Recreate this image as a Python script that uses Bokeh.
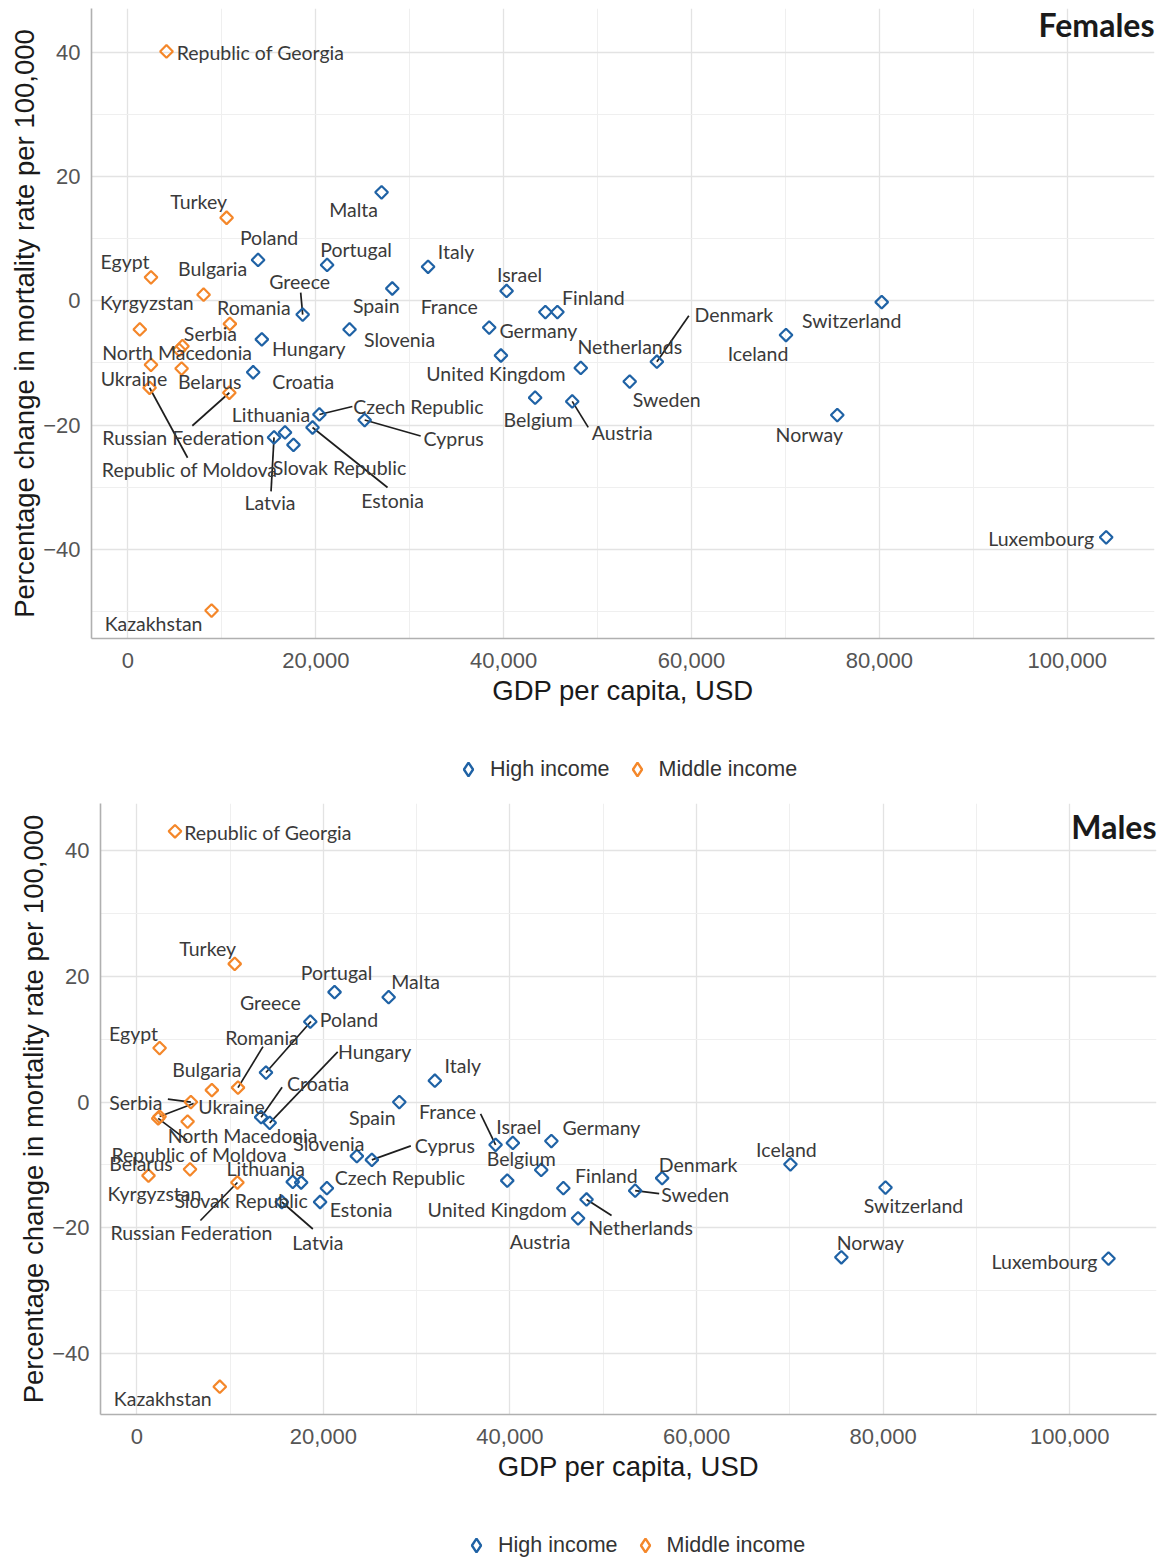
import numpy as np
from bokeh.plotting import figure
from bokeh.models import (ColumnDataSource, Range1d, NumeralTickFormatter, FixedTicker,
                          Legend, LegendItem, Label)
from bokeh.layouts import column, row
from bokeh.embed import file_html
from bokeh.resources import INLINE
from bokeh.core.properties import value

# ---------------- data ----------------
countries = [
    "Republic of Georgia", "Turkey", "Egypt", "Bulgaria", "Romania", "Kyrgyzstan",
    "Serbia", "North Macedonia", "Ukraine", "Republic of Moldova", "Belarus",
    "Russian Federation", "Kazakhstan",
    "Malta", "Poland", "Portugal", "Italy", "Spain", "Greece", "Slovenia", "Hungary",
    "Croatia", "Czech Republic", "Cyprus", "Estonia", "Lithuania", "Slovak Republic",
    "Latvia", "Israel", "France", "Germany", "Finland", "United Kingdom", "Netherlands",
    "Sweden", "Denmark", "Belgium", "Austria", "Switzerland", "Iceland", "Norway",
    "Luxembourg",
]
gdp_per_capita = [
    4100, 10500, 2450, 8050, 10850, 1260,
    5800, 5450, 2450, 2300, 5710,
    10790, 8900,
    27000, 13850, 21200, 31950, 28140, 18600, 23590, 14250,
    13330, 20380, 25200, 19650, 16720, 17620,
    15550, 40310, 38460, 44440, 45720, 39710, 48210,
    53420, 56310, 43350, 47300, 80250, 70060, 75520,
    104150,
]
female_change = [
    40.2, 13.4, 3.8, 1.0, -3.7, -4.6,
    -7.3, -7.9, -10.3, -14.0, -10.9,
    -14.8, -49.9,
    17.5, 6.6, 5.8, 5.5, 2.0, -2.2, -4.6, -6.2,
    -11.5, -18.3, -19.2, -20.4, -21.2, -23.2,
    -22.0, 1.6, -4.3, -1.8, -1.8, -8.8, -10.8,
    -13.0, -9.8, -15.6, -16.2, -0.2, -5.5, -18.4,
    -38.1,
]
male_change = [
    43.1, 22.0, 8.6, 1.9, 2.3, -11.7,
    0.0, -3.1, -2.3, -2.6, -10.7,
    -12.8, -45.3,
    16.7, 4.7, 17.5, 3.4, 0.0, 12.8, -8.6, -3.3,
    -2.4, -13.7, -9.2, -15.9, -12.7, -12.8,
    -15.9, -6.5, -6.8, -6.2, -13.7, -12.5, -15.5,
    -14.1, -12.1, -10.8, -18.5, -13.6, -9.9, -24.7,
    -24.9,
]
income_group = ["Middle income"] * 13 + ["High income"] * 29

groups = ["High income", "Middle income"]
x_major = [0, 20000, 40000, 60000, 80000, 100000]
x_minor = [10000, 30000, 50000, 70000, 90000]
y_major = [-40, -20, 0, 20, 40]
y_minor = [-50, -30, -10, 10, 30]

# ---------------- layout / style (label placement in screen pixels) ----------------
COLORS = {"High income": "#1f62a5", "Middle income": "#f4872a"}
LABEL_FONT = "Lato"
AXIS_FONT = "Liberation Sans"

FEMALE_LABELS = {
    "Republic of Georgia": (94, 1), "Turkey": (-28, -16), "Egypt": (-26, -16),
    "Bulgaria": (9, -26), "Romania": (24, -16), "Kyrgyzstan": (7, -27),
    "Serbia": (28, -13), "North Macedonia": (-2, 3), "Ukraine": (-17, 14),
    "Republic of Moldova": (40, 82), "Belarus": (28, 13),
    "Russian Federation": (-46, 45), "Kazakhstan": (-58, 13),
    "Malta": (-28, 17), "Poland": (11, -22), "Portugal": (29, -15), "Italy": (28, -15),
    "Spain": (-16, 17), "Greece": (-3, -33), "Slovenia": (50, 10), "Hungary": (47, 9),
    "Croatia": (50, 9), "Czech Republic": (99, -8), "Cyprus": (89, 18),
    "Estonia": (80, 73), "Lithuania": (-14, -18), "Slovak Republic": (46, 23),
    "Latvia": (-4, 65), "Israel": (13, -16), "France": (-40, -21), "Germany": (-7, 18),
    "Finland": (36, -15), "United Kingdom": (-5, 18), "Netherlands": (49, -21),
    "Sweden": (37, 18), "Denmark": (77, -47), "Belgium": (3, 22), "Austria": (50, 31),
    "Switzerland": (-30, 18), "Iceland": (-28, 18), "Norway": (-28, 19),
    "Luxembourg": (-65, 1),
}
FEMALE_LEADERS = {
    "Greece": (-2, -22), "Denmark": (32, -46), "Austria": (16, 26),
    "Czech Republic": (33, -8), "Cyprus": (56, 16), "Russian Federation": (-37, 33),
    "Republic of Moldova": (38, 70), "Latvia": (-3, 54), "Estonia": (75, 60),
}
MALE_LABELS = {
    "Republic of Georgia": (93, 1), "Turkey": (-27, -15), "Egypt": (-26, -15),
    "Bulgaria": (-5, -21), "Romania": (24, -50), "Kyrgyzstan": (6, 18),
    "Serbia": (-55, 0), "North Macedonia": (55, 14), "Ukraine": (72, -10),
    "Republic of Moldova": (41, 36), "Belarus": (-49, -6),
    "Russian Federation": (-46, 50), "Kazakhstan": (-57, 12),
    "Malta": (27, -16), "Poland": (83, -53), "Portugal": (2, -20), "Italy": (28, -15),
    "Spain": (-27, 15), "Greece": (-40, -19), "Slovenia": (-28, -13), "Hungary": (105, -71),
    "Croatia": (57, -34), "Czech Republic": (73, -11), "Cyprus": (73, -14),
    "Estonia": (41, 8), "Lithuania": (-27, -13), "Slovak Republic": (-60, 18),
    "Latvia": (36, 41), "Israel": (6, -16), "France": (-48, -33), "Germany": (50, -14),
    "Finland": (43, -13), "United Kingdom": (-10, 29), "Netherlands": (54, 28),
    "Sweden": (60, 4), "Denmark": (36, -14), "Belgium": (-20, -11), "Austria": (-38, 23),
    "Switzerland": (28, 18), "Iceland": (-4, -15), "Norway": (29, -15),
    "Luxembourg": (-64, 3),
}
MALE_LEADERS = {
    "Poland": (45, -51), "Romania": (25, -41), "Hungary": (68, -71), "Croatia": (21, -30),
    "Serbia": (-23, -3), "Ukraine": (34, -13), "Republic of Moldova": (29, 22),
    "Russian Federation": (-37, 38), "Cyprus": (39, -14), "France": (-15, -31),
    "Latvia": (31, 27), "Netherlands": (25, 16), "Sweden": (24, 3),
}

PAGE_W = 1165


def expand(vals, frac=0.05):
    lo, hi = min(vals), max(vals)
    pad = (hi - lo) * frac
    return lo - pad, hi + pad


def make_panel(vals, title, labels, leaders, geom):
    # fw, fh: frame size of the data area; head: extra px of frame above it (room for title)
    fw, fh, head, bl, bt, bb, title_dy = geom
    x0, x1 = expand(gdp_per_capita)
    y0, y1 = expand(vals)
    sx = fw / (x1 - x0)
    sy = fh / (y1 - y0)
    y1 = y1 + head / sy

    p = figure(frame_width=fw, frame_height=fh + head,
               min_border_left=bl, min_border_right=PAGE_W - bl - fw,
               min_border_top=bt, min_border_bottom=bb,
               x_range=Range1d(x0, x1), y_range=Range1d(y0, y1),
               output_backend="svg", toolbar_location=None)
    p.outline_line_color = None
    p.background_fill_color = "white"
    p.border_fill_color = "white"

    xt = FixedTicker(ticks=x_major, minor_ticks=x_minor)
    yt = FixedTicker(ticks=y_major, minor_ticks=y_minor)
    p.xaxis.ticker = xt
    p.yaxis.ticker = yt
    p.xgrid.ticker = xt
    p.ygrid.ticker = yt
    for g in (p.xgrid, p.ygrid):
        g.grid_line_color = "#e3e3e3"
        g.grid_line_width = 1.3
        g.minor_grid_line_color = "#efefef"
        g.minor_grid_line_width = 1.0
    p.xaxis.formatter = NumeralTickFormatter(format="0,0")

    for ax in (p.xaxis, p.yaxis):
        ax.axis_line_color = "#b0b0b0"
        ax.axis_line_width = 1.6
        ax.major_tick_line_color = None
        ax.minor_tick_line_color = None
        ax.major_label_text_font = AXIS_FONT
        ax.major_label_text_font_size = "22px"
        ax.major_label_text_color = "#555555"
        ax.axis_label_text_font = AXIS_FONT
        ax.axis_label_text_font_size = "27.5px"
        ax.axis_label_text_font_style = "normal"
        ax.axis_label_text_color = "#1a1a1a"
    p.xaxis.major_label_standoff = 8
    p.yaxis.major_label_standoff = 5
    p.xaxis.axis_label_standoff = 4
    p.yaxis.axis_label_standoff = 0
    p.xaxis.axis_label = "GDP per capita, USD"
    p.yaxis.axis_label = "Percentage change in mortality rate per 100,000"

    # leader lines
    lx0, ly0, lx1, ly1 = [], [], [], []
    for name, g, v in zip(countries, gdp_per_capita, vals):
        if name in leaders:
            dx, dy = leaders[name]
            lx0.append(g); ly0.append(v)
            lx1.append(g + dx / sx); ly1.append(v - dy / sy)
    p.segment(x0=lx0, y0=ly0, x1=lx1, y1=ly1, line_color="#1e1e1e", line_width=1.7)

    # points
    for grp in groups:
        idx = [i for i, g in enumerate(income_group) if g == grp]
        src = ColumnDataSource(dict(x=[gdp_per_capita[i] for i in idx],
                                    y=[vals[i] for i in idx]))
        p.scatter("x", "y", source=src, marker="square", angle=np.pi / 4,
                  size=9, fill_color=None, line_color=COLORS[grp], line_width=2.2)

    # labels
    tx, ty, tt = [], [], []
    for name, g, v in zip(countries, gdp_per_capita, vals):
        dx, dy = labels.get(name, (0, -16))
        tx.append(g + dx / sx); ty.append(v - dy / sy); tt.append(name)
    p.text(x=tx, y=ty, text=tt, text_align="center", text_baseline="middle",
           text_font=value(LABEL_FONT), text_font_size="19.5px", text_color="#3a3a3a")

    p.add_layout(Label(x=x1, y=y1 - title_dy / sy, text=title, text_align="right",
                       text_baseline="middle", text_font=LABEL_FONT, text_font_style="bold",
                       text_font_size="32px", text_color="#1a1a1a"))
    return p


def make_legend(height, loc):
    p = figure(width=PAGE_W, height=height, x_range=Range1d(0, 1), y_range=Range1d(0, 1),
               min_border=0, x_axis_location=None, y_axis_location=None,
               output_backend="svg", toolbar_location=None)
    p.outline_line_color = None
    p.grid.visible = False
    items = []
    for grp in groups:
        # key-only renderer: its single point lies outside the visible range
        r = p.scatter(x=[-1], y=[-1], marker="diamond", size=14, fill_color=None,
                      line_color=COLORS[grp], line_width=2.4)
        items.append(LegendItem(label=grp, renderers=[r]))
    legend = Legend(items=items, orientation="horizontal", location=loc,
                    border_line_color=None, background_fill_alpha=0, padding=0, margin=0,
                    spacing=10, label_standoff=5, glyph_width=34, glyph_height=34,
                    label_text_font=AXIS_FONT, label_text_font_size="21.5px",
                    label_text_color="#333333")
    p.add_layout(legend)
    return p


top = make_panel(female_change, "Females", FEMALE_LABELS, FEMALE_LEADERS,
                 (1063, 615, 15, 91, 8, 108, 16))
legend_top = make_legend(40, (451, 0))
bottom = make_panel(male_change, "Males", MALE_LABELS, MALE_LEADERS,
                    (1056, 611, 0, 100, 17, 106, 23))
legend_bottom = make_legend(40, (459, -2))

layout = column(row(top), row(legend_top), row(bottom), row(legend_bottom), spacing=0)
open("out.html", "w").write(file_html(layout, INLINE))
